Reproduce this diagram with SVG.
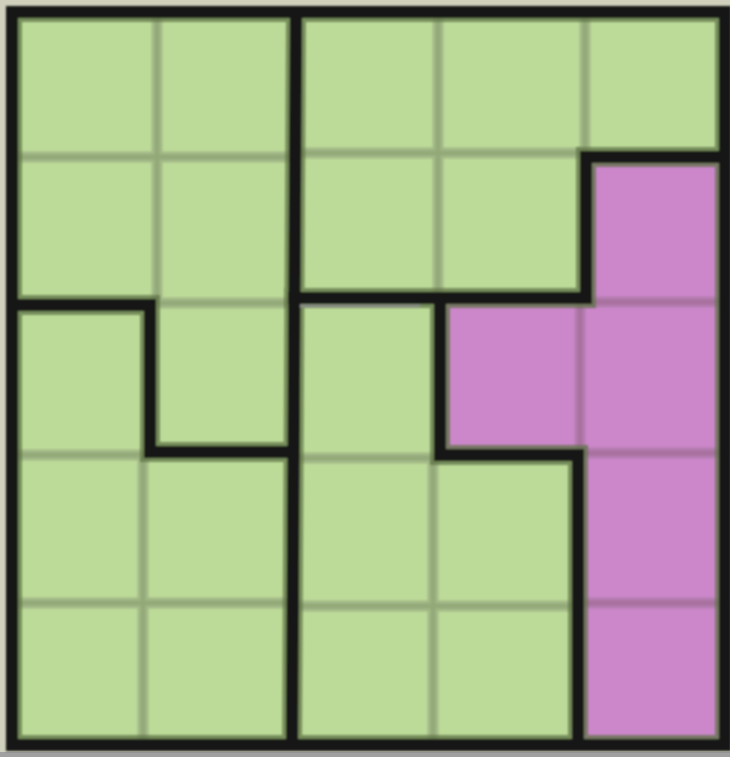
<svg xmlns="http://www.w3.org/2000/svg" width="730" height="757" viewBox="0 0 730 757">
<defs>
<filter id="soft" x="-5%" y="-5%" width="110%" height="110%"><feGaussianBlur stdDeviation="1.3"/></filter>
<clipPath id="inner"><rect x="12" y="12" width="713" height="733"/></clipPath>
<style>
.g{fill:#bddb98}
.m{fill:#cc87cb}
.tg{stroke:#a2b886;stroke-width:11;fill:none}
.tgc{stroke:#93a978;stroke-width:5;fill:none}
.tm{stroke:#b47cae;stroke-width:11;fill:none}
.tmc{stroke:#a7719f;stroke-width:5;fill:none}
.halo{stroke:#5f7448;stroke-width:20;fill:none;stroke-linejoin:miter;stroke-linecap:square;opacity:0.75}
.thick{stroke:#131313;stroke-width:12;fill:none;stroke-linejoin:miter;stroke-linecap:square}
</style>
</defs>
<rect width="730" height="757" fill="#d0d0bc"/>
<rect x="0" y="752" width="730" height="5" fill="#a0a0a0"/>
<g id="board" filter="url(#soft)">
<rect class="g" x="12" y="12" width="713" height="733"/>
<polygon class="m" points="586,157 725,157 725,745 578,745 578,455 440,455 440,300 586,300"/>
</g>
<g id="grid-lines" filter="url(#soft)">
<path class="tg" d="M157,12V305 M12,157H296 M150,303H294 M12,455H150 M12,603H292 M143,452V745 M438,12V298 M585,12V157 M296,153H586 M292,458H440 M433,455V745 M292,606H578"/>
<path class="tgc" d="M157,12V305 M12,157H296 M150,303H294 M12,455H150 M12,603H292 M143,452V745 M438,12V298 M585,12V157 M296,153H586 M292,458H440 M433,455V745 M292,606H578"/>
<path class="tm" d="M586,302H725 M580,300V455 M578,453H725 M578,603H725"/>
<path class="tmc" d="M586,302H725 M580,300V455 M578,453H725 M578,603H725"/>
</g>
<g id="regions" filter="url(#soft)">
<g clip-path="url(#inner)">
<path class="halo" d="M12,12H725V745H12Z M296,12L292,745 M12,305H150V452H292 M294,298H586V157H725 M440,300V455H578V745"/>
</g>
<path class="thick" d="M12,12H725V745H12Z M296,12L292,745 M12,305H150V452H292 M294,298H586V157H725 M440,300V455H578V745"/>
<path d="M300,306H420" stroke="#8a8a8a" stroke-width="2.5" fill="none"/>
</g>
</svg>
